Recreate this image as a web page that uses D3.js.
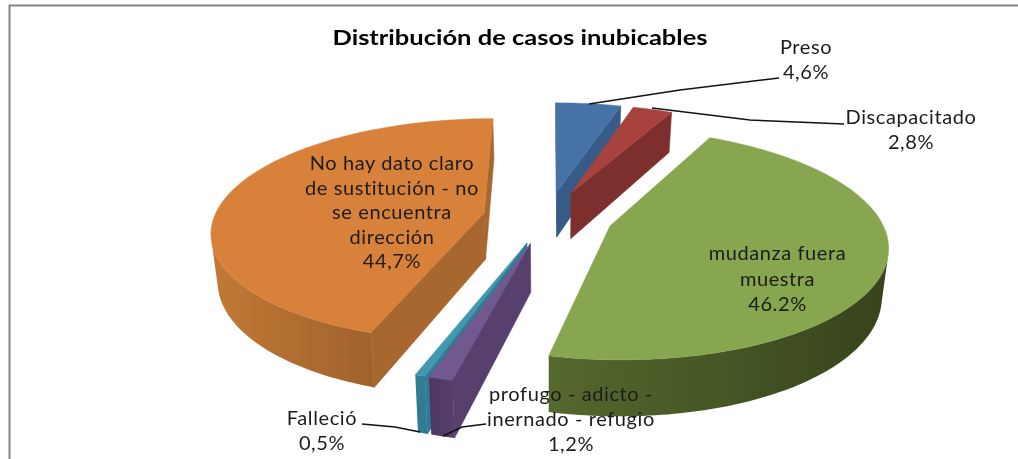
<!DOCTYPE html>
<html>
<head>
<meta charset="utf-8">
<script src="https://cdn.jsdelivr.net/npm/d3@7"></script>
<style>
  html, body { margin: 0; padding: 0; background: #fff; }
  svg { display: block; filter: blur(0.45px); }
  text { font-family: Lato, "Open Sans", sans-serif; fill: #1c1c1c; }
</style>
</head>
<body>
<div id="chart"></div>
<script>
(function(){

const categories = ["Preso", "Discapacitado", "mudanza fuera muestra", "profugo - adicto - inernado - refugio", "Falleció", "No hay dato claro de sustitución - no se encuentra dirección"];
const values = [4.6, 2.8, 46.2, 1.2, 0.5, 44.7];
const valueLabels = ["4,6%", "2,8%", "46.2%", "1,2%", "0,5%", "44,7%"];
const topColors = ["#4672a8", "#a8423f", "#88a54f", "#71588f", "#4198af", "#d8813a"];
const sideColors = ["#375a86", "#7c2f2d", "#4e6128", "#573f6e", "#2f7c93", "#a8672f"];
const rimLeftColors = ["#375a86", "#7c2f2d", "#55682e", "#4d3762", "#2f7c93", "#c27935"];
const rimRightColors = ["#375a86", "#7c2f2d", "#37441c", "#573f6e", "#2f7c93", "#a0622c"];

const width = 1018;
const height = 459;

// pie geometry, fitted on the picture
const cx = 548, cy = 217, radius = 270, explode = 65, tilt = 0.407, camera = 1739, thick = 47, shrink = 0.98;

const svg = d3.select("#chart")
  .append("svg")
  .attr("width", width)
  .attr("height", height);

const defs = svg.append("defs");

// frame
svg.append("path")
  .attr("d", `M9.5,${height} V5.5 H${width}`)
  .attr("fill", "none")
  .attr("stroke", "#858585")
  .attr("stroke-width", 2);

// slices, clockwise from twelve o'clock
const pie = d3.pie().sort(null).value(d => d);
const slices = pie(values).map((d, i) => ({...d, i}));

function project(u, v, down) {
  const s = 1 / (1 - v / camera);
  if (down) return [cx + u * s * shrink, cy + tilt * v * s + thick * s];
  return [cx + u * s, cy + tilt * v * s];
}

// a point on a slice, r is the distance from its tip
function point(d, a, r, down) {
  const mid = (d.startAngle + d.endAngle) / 2;
  const u = explode * Math.sin(mid) + r * Math.sin(a);
  const v = -explode * Math.cos(mid) - r * Math.cos(a);
  return project(u, v, down);
}

const pathOf = d3.line().curve(d3.curveLinear);

function facing(p) {
  return d3.polygonArea(p) > 0;
}

// front-most slices are painted last
const order = [0, 1, 5, 2, 4, 3];

order.forEach(i => {
  const d = slices[i];
  const g = svg.append("g").attr("class", "slice");

  const quad = (a, b, fill) => {
    const p = [a[0], b[0], b[1], a[1]];
    if (!facing(p)) return;
    g.append("path")
      .attr("d", pathOf(p) + "Z")
      .attr("fill", fill)
      .attr("stroke", fill)
      .attr("stroke-width", 0.6);
  };

  const edge = (a, r) => [point(d, a, r, false), point(d, a, r, true)];

  // straight walls
  quad(edge(d.startAngle, 0), edge(d.startAngle, radius), sideColors[i]);
  quad(edge(d.endAngle, radius), edge(d.endAngle, 0), sideColors[i]);

  // rounded wall, only the part turned to the viewer
  const steps = Math.max(2, Math.ceil((d.endAngle - d.startAngle) / 0.02));
  const angles = d3.range(steps + 1).map(k => d.startAngle + (d.endAngle - d.startAngle) * k / steps);
  const front = d3.pairs(angles).filter(([a0, a1]) => {
    const e0 = edge(a0, radius), e1 = edge(a1, radius);
    return facing([e0[0], e1[0], e1[1], e0[1]]);
  });
  if (front.length) {
    const from = front[0][0], to = front[front.length - 1][1];
    const shown = angles.filter(a => a >= from - 1e-9 && a <= to + 1e-9);
    const rim = shown.map(a => point(d, a, radius, false))
      .concat(shown.slice().reverse().map(a => point(d, a, radius, true)));
    const xs = d3.extent(rim, p => p[0]);
    const grad = defs.append("linearGradient")
      .attr("id", "rim" + i)
      .attr("gradientUnits", "userSpaceOnUse")
      .attr("x1", xs[0]).attr("x2", xs[1])
      .attr("y1", 0).attr("y2", 0);
    grad.append("stop").attr("offset", 0).attr("stop-color", rimLeftColors[i]);
    grad.append("stop").attr("offset", 1).attr("stop-color", rimRightColors[i]);
    g.append("path")
      .attr("d", pathOf(rim) + "Z")
      .attr("fill", `url(#rim${i})`);
  }

  // top
  const top = [point(d, 0, 0, false)].concat(angles.map(a => point(d, a, radius, false)));
  g.append("path")
    .attr("d", pathOf(top) + "Z")
    .attr("fill", topColors[i])
    .attr("stroke", topColors[i])
    .attr("stroke-width", 0.5);
});

// title
svg.append("text")
  .attr("x", 520)
  .attr("y", 45)
  .attr("text-anchor", "middle")
  .attr("textLength", 375)
  .attr("lengthAdjust", "spacingAndGlyphs")
  .style("font-size", "21px")
  .style("font-weight", "700")
  .style("fill", "#000")
  .text("Distribución de casos inubicables");

// labels, one line per row of text
const labelRows = [
  ["Preso", valueLabels[0]],
  ["Discapacitado", valueLabels[1]],
  ["mudanza fuera", "muestra", valueLabels[2]],
  ["profugo - adicto -", "inernado - refugio", valueLabels[3]],
  ["Falleció", valueLabels[4]],
  ["No hay dato claro", "de sustitución - no", "se encuentra", "dirección", valueLabels[5]]
];
const labelX = [806, 911, 777.5, 571, 322, 392];
const labelY = [54, 124, 260, 401, 425, 170];
const rowGap = [25, 24.5, 25.5, 25, 25, 24.5];

labelRows.forEach((rows, i) => {
  rows.forEach((row, k) => {
    svg.append("text")
      .attr("x", labelX[i])
      .attr("y", labelY[i] + k * rowGap[i])
      .attr("text-anchor", "middle")
      .style("font-size", "20px")
      .style("letter-spacing", "0.6px")
      .text(row);
  });
});

// leader lines
const leaders = [
  [0, [[589, 104], [680, 90], [779, 78]]],
  [1, [[652, 108], [750, 120], [844, 124]]],
  [3, [[443, 436], [462, 427], [486, 424]]],
  [4, [[420, 432], [395, 427], [362, 424]]]
];
leaders.forEach(([i, pts]) => {
  svg.append("path")
    .attr("d", pathOf(pts))
    .attr("fill", "none")
    .attr("stroke", "#111")
    .attr("stroke-width", 1.4);
});

})();
</script>
</body>
</html>
